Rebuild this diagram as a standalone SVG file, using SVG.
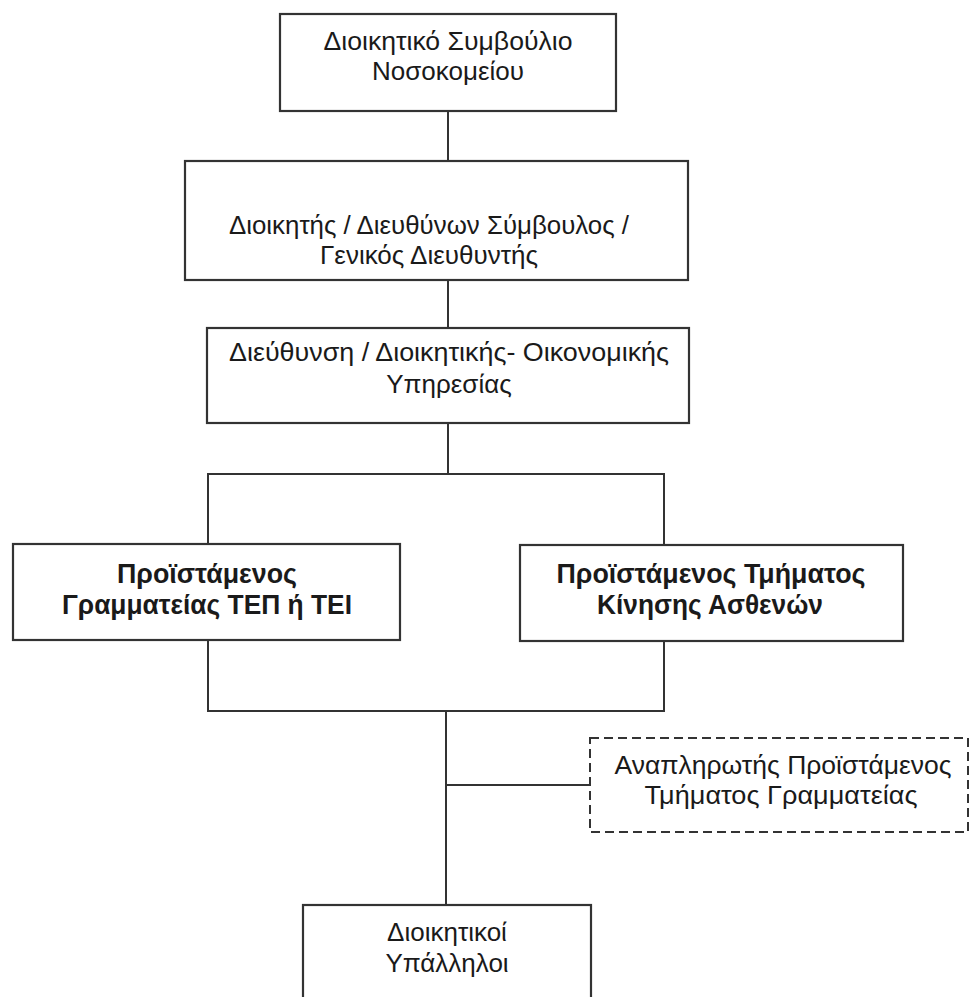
<svg xmlns="http://www.w3.org/2000/svg" width="970" height="997" viewBox="0 0 970 997">
  <style>
    .box { fill: #ffffff; stroke: #333333; stroke-width: 2.2; }
    .dash { fill: #ffffff; stroke: #333333; stroke-width: 2; stroke-dasharray: 9 5; }
    .t { font-family: "Liberation Sans", Arial, sans-serif; font-size: 26px; fill: #1a1a1a; text-anchor: middle; }
    .b { font-family: "Liberation Sans Narrow", "Liberation Sans", Arial, sans-serif; font-size: 28px; font-weight: bold; fill: #1a1a1a; text-anchor: middle; }
    .c { fill: none; stroke: #333333; stroke-width: 2; }
  </style>
  <rect x="0" y="0" width="970" height="997" fill="#ffffff"/>
  <g id="connectors">
    <path class="c" d="M448 111 V161"/>
    <path class="c" d="M448 280 V328"/>
    <path class="c" d="M448 423 V474"/>
    <path class="c" d="M208 544 V474 H664 V545"/>
    <path class="c" d="M208 640 V711 H664 V641"/>
    <path class="c" d="M446 711 V905"/>
    <path class="c" d="M446 785 H590"/>
  </g>
  <g id="board">
    <rect class="box" x="280" y="14" width="336" height="97"/>
    <text class="t" x="448" y="50" textLength="249" lengthAdjust="spacingAndGlyphs">Διοικητικό Συμβούλιο</text>
    <text class="t" x="448" y="80">Νοσοκομείου</text>
  </g>
  <g id="director">
    <rect class="box" x="185" y="161" width="503" height="119"/>
    <text class="t" x="429" y="234" textLength="400" lengthAdjust="spacingAndGlyphs">Διοικητής / Διευθύνων Σύμβουλος /</text>
    <text class="t" x="429" y="264">Γενικός Διευθυντής</text>
  </g>
  <g id="admin-finance">
    <rect class="box" x="207" y="328" width="482" height="95"/>
    <text class="t" x="449" y="361" textLength="440" lengthAdjust="spacingAndGlyphs">Διεύθυνση / Διοικητικής- Οικονομικής</text>
    <text class="t" x="449" y="393">Υπηρεσίας</text>
  </g>
  <g id="head-secretariat">
    <rect class="box" x="13" y="544" width="387" height="96"/>
    <text class="b" x="207" y="583" textLength="180" lengthAdjust="spacingAndGlyphs">Προϊστάμενος</text>
    <text class="b" x="207" y="614" textLength="290" lengthAdjust="spacingAndGlyphs">Γραμματείας ΤΕΠ ή ΤΕΙ</text>
  </g>
  <g id="head-patient-movement">
    <rect class="box" x="520" y="545" width="383" height="96"/>
    <text class="b" x="711" y="583" textLength="309" lengthAdjust="spacingAndGlyphs">Προϊστάμενος Τμήματος</text>
    <text class="b" x="710" y="614" textLength="226" lengthAdjust="spacingAndGlyphs">Κίνησης Ασθενών</text>
  </g>
  <g id="deputy">
    <rect class="dash" x="590" y="738" width="378" height="94"/>
    <text class="t" x="783" y="774" textLength="337" lengthAdjust="spacingAndGlyphs">Αναπληρωτής Προϊστάμενος</text>
    <text class="t" x="781" y="804" textLength="273" lengthAdjust="spacingAndGlyphs">Τμήματος Γραμματείας</text>
  </g>
  <g id="staff">
    <rect class="box" x="303" y="905" width="288" height="110"/>
    <text class="t" x="447" y="941">Διοικητικοί</text>
    <text class="t" x="447" y="972">Υπάλληλοι</text>
  </g>
</svg>
